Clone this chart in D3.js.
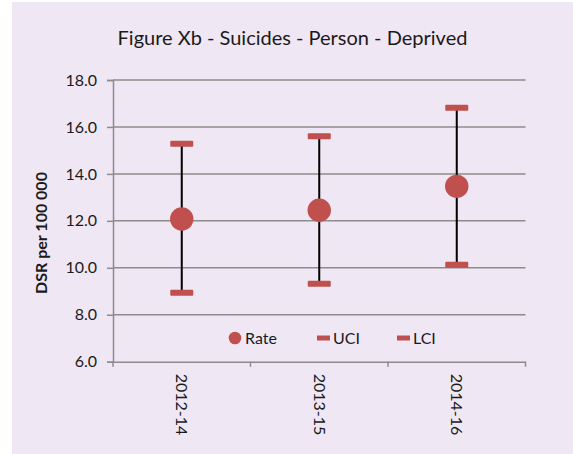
<!DOCTYPE html>
<html><head><meta charset="utf-8">
<script src="https://cdn.jsdelivr.net/npm/d3@7"></script>
<style>body{margin:0;background:#fff}svg{display:block}text{font-family:Lato,sans-serif;fill:#1a1a1a}</style>
</head><body><svg id="c" width="573" height="454"></svg>
<script>
const categories = ["2012-14","2013-15","2014-16"];
const rate = [12.08, 12.45, 13.47];
const uci = [15.28, 15.6, 16.82];
const lci = [8.94, 9.32, 10.13];
const yTicks = [6,8,10,12,14,16,18];
const legendItems = ["Rate","UCI","LCI"];

const svg = d3.select("#c");
svg.append("rect").attr("x",12).attr("y",2).attr("width",561).attr("height",452).attr("fill","#F0E7F4");

const L=113, R=525.5, T=80, B=361.7;
const x = d3.scaleBand().domain(categories).range([L,R]);
const y = d3.scaleLinear().domain([6,18]).range([B,T]);

svg.append("text").attr("x",292.5).attr("y",45).attr("text-anchor","middle").style("font-size","20px").text("Figure Xb - Suicides - Person - Deprived");

// grid
svg.append("g").selectAll("line").data(yTicks.filter(d=>d>6)).join("line")
 .attr("x1",L).attr("x2",R).attr("y1",d=>y(d)).attr("y2",d=>y(d)).attr("stroke","#8c8c8c").attr("stroke-width",1.5);

const ya = svg.append("g").attr("transform",`translate(${L},0)`)
 .call(d3.axisLeft(y).tickValues(yTicks).tickFormat(d3.format(".1f")).tickSize(6).tickPadding(10));
ya.select(".domain").attr("stroke","#8c8c8c").attr("stroke-width",1.5);
ya.selectAll(".tick line").attr("stroke","#8c8c8c").attr("stroke-width",1.5);
ya.selectAll("text").style("font-size","16px").attr("fill","#1a1a1a").style("font-family","Lato,sans-serif");

const xa = svg.append("g").attr("transform",`translate(0,${B})`)
 .call(d3.axisBottom(x).tickSize(0).tickFormat(""));
xa.select(".domain").attr("stroke","#8c8c8c").attr("stroke-width",1.5);
svg.append("g").selectAll("line").data(d3.range(categories.length+1)).join("line")
 .attr("x1",i=>L+i*x.step()).attr("x2",i=>L+i*x.step()).attr("y1",B).attr("y2",B+5).attr("stroke","#8c8c8c").attr("stroke-width",1.5);
svg.append("g").selectAll("text").data(categories).join("text")
 .attr("transform",d=>`translate(${x(d)+x.bandwidth()/2},${B+12}) rotate(90)`)
 .attr("dy","0.35em").style("font-size","16px").text(d=>d);

svg.append("text").attr("transform","translate(41,233) rotate(-90)").attr("text-anchor","middle").attr("dy","0.35em")
 .style("font-size","16px").style("font-weight","bold").text("DSR per 100 000");

const cx = i=>x(categories[i])+x.bandwidth()/2;
const red="#C0504D";
svg.append("g").selectAll("line").data(categories).join("line")
 .attr("x1",(d,i)=>cx(i)).attr("x2",(d,i)=>cx(i)).attr("y1",(d,i)=>y(uci[i])).attr("y2",(d,i)=>y(lci[i])).attr("stroke","#000").attr("stroke-width",2);
[uci,lci].forEach(arr=>{
 svg.append("g").selectAll("rect").data(arr).join("rect")
  .attr("x",(d,i)=>cx(i)-11.5).attr("y",d=>y(d)-3).attr("width",23).attr("height",6).attr("rx",1).attr("fill",red);
});
svg.append("g").selectAll("circle").data(rate).join("circle")
 .attr("cx",(d,i)=>cx(i)).attr("cy",d=>y(d)).attr("r",11.7).attr("fill",red);

// legend
const ly=338;
svg.append("circle").attr("cx",235).attr("cy",ly).attr("r",6.3).attr("fill",red);
svg.append("text").attr("x",245).attr("y",ly).attr("dy","0.35em").style("font-size","16px").text(legendItems[0]);
svg.append("rect").attr("x",317).attr("y",ly-2.5).attr("width",13).attr("height",5).attr("fill",red);
svg.append("text").attr("x",333).attr("y",ly).attr("dy","0.35em").style("font-size","16px").text(legendItems[1]);
svg.append("rect").attr("x",397).attr("y",ly-2.5).attr("width",13).attr("height",5).attr("fill",red);
svg.append("text").attr("x",413).attr("y",ly).attr("dy","0.35em").style("font-size","16px").text(legendItems[2]);
</script></body></html>
